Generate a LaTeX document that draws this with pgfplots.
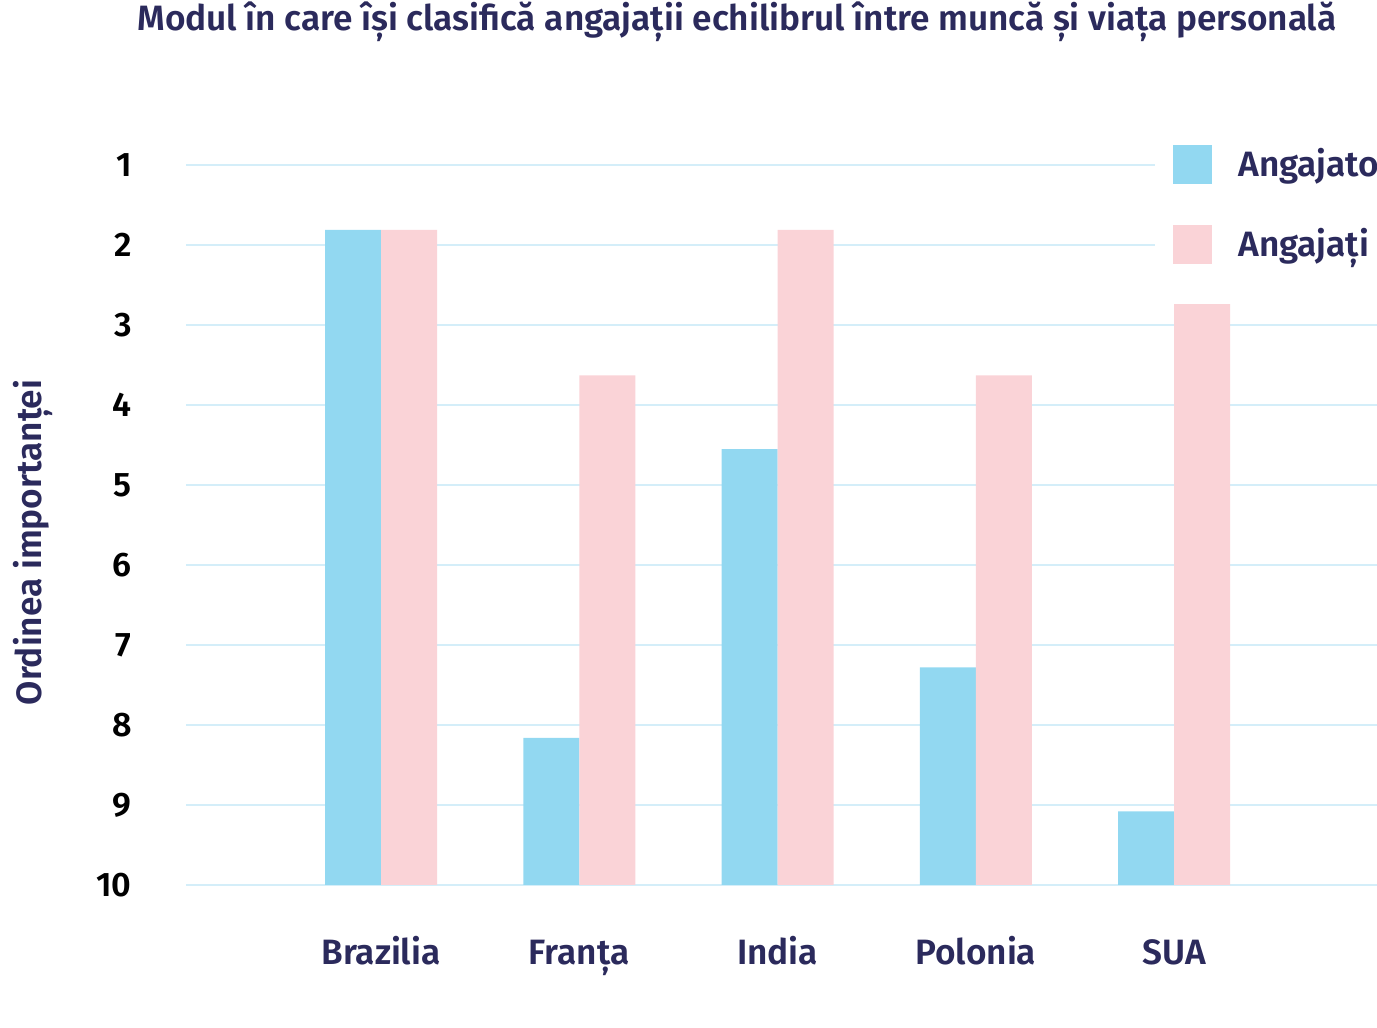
\documentclass[border=0pt]{standalone}
\usepackage{pgfplots}
\pgfplotsset{compat=1.18}
\usepackage{fontspec}
\setmainfont{Fira Sans}[BoldFont={Fira Sans SemiBold}]
\definecolor{navy}{HTML}{2B2A5C}
\definecolor{barblue}{HTML}{92D8F1}
\definecolor{barpink}{HTML}{FAD3D7}
\definecolor{gridblue}{HTML}{D4EEF9}
\newcommand{\lblfont}{\fontsize{17.6}{20}\selectfont\bfseries}
\begin{document}
\begin{tikzpicture}
\begin{axis}[
  at={(0pt,0pt)}, anchor=south west,
  scale only axis, width=598.1pt, height=360pt,
  xmin=-0.9836, xmax=5.05,
  y coord trafo/.code={\pgfmathparse{10-#1}},
  y coord inv trafo/.code={\pgfmathparse{10-#1}},
  ymin=10, ymax=1,
  ybar=0pt, bar width=28pt,
  xtick={0,1,2,3,4},
  xticklabels={Brazilia,Franța,India,Polonia,SUA},
  ytick={1,2,3,4,5,6,7,8,9,10},
  yticklabels={1,2,3,4,5,6,7,8,9,10},
  /pgf/number format/assume math mode=true,
  major tick length=0pt,
  axis line style={draw=none},
  ymajorgrids, grid style={color=gridblue, line width=1.3pt},
  tick label style={font=\lblfont},
  yticklabel style={inner sep=0pt, anchor=east, xshift=-27pt, text=black, font=\fontsize{17}{20}\selectfont\bfseries},
  xticklabel style={inner sep=0pt, anchor=base, yshift=-39.5pt, text=navy},
  ylabel={Ordinea importanței},
  ylabel style={at={(axis description cs:-0.1204,0.4757)}, anchor=base, font=\lblfont, text=navy},
  title={Modul în care își clasifică angajații echilibrul între muncă și viața personală},
  every axis title shift=0pt,
  title style={at={(axis description cs:0.4606,1.1875)}, anchor=base, inner sep=0pt, font=\lblfont, text=navy},
  legend style={at={(axis description cs:0.8101,1.0389)}, anchor=north west, draw=none, fill=white,
    inner xsep=9pt, inner ysep=4pt, row sep=20.5pt, column sep=13pt,
    font=\lblfont, text=navy,
    nodes={inner sep=0pt}},
  legend cell align=left,
  legend image code/.code={\fill[#1] (0pt,-10.25pt) rectangle (19.5pt,9.25pt);},
]
\addplot[fill=barblue, draw=none] coordinates {(0,1.81) (1,8.16) (2,4.55) (3,7.28) (4,9.08)};
\addplot[fill=barpink, draw=none] coordinates {(0,1.81) (1,3.63) (2,1.81) (3,3.63) (4,2.74)};
\legend{Angajatori, Angajați}
\end{axis}
\pgfresetboundingbox
\useasboundingbox (-93pt,-71.5pt) rectangle (595.5pt,442.5pt);
\end{tikzpicture}
\end{document}
